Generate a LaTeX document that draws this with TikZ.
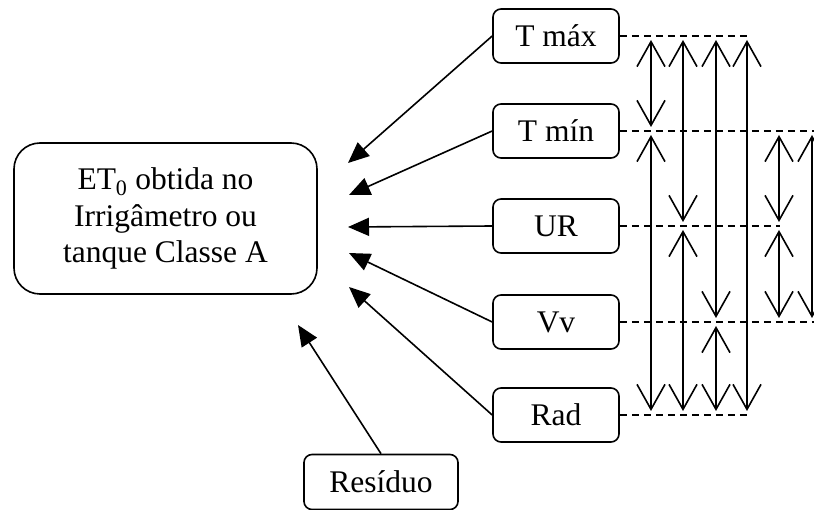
\documentclass[tikz,border=0pt]{standalone}
\usepackage{fontspec}
\setmainfont{Liberation Serif}
\usetikzlibrary{arrows.meta}

\begin{document}
\begin{tikzpicture}[x=1pt,y=-1pt,
  every node/.style={font=\fontsize{31.5}{36.7}\selectfont, inner sep=0pt},
  varbox/.style={draw, line width=1.6pt, rounded corners=8pt,
                 minimum width=126pt, minimum height=54pt},
  mainbox/.style={draw, line width=1.6pt, rounded corners=26pt,
                  minimum width=303pt, minimum height=151pt, align=center},
  feed/.style={line width=1.6pt, -{Triangle[length=21pt,width=18pt]}},
  guide/.style={line width=1.4pt, dash pattern=on 7pt off 5pt},
  span/.style={line width=1.6pt,
               {Straight Barb[length=25pt,width=28pt,line width=1.6pt]}-{Straight Barb[length=25pt,width=28pt,line width=1.6pt]},
               shorten <=4pt, shorten >=4pt}]
\useasboundingbox (0,0) rectangle (814,510);

% central box
\node[mainbox] (et) at (165.5,218.5) {ET\textsubscript{0} obtida no\\Irrigâmetro ou\\tanque Classe A};

% climate variables
\node[varbox] (tmax) at (556,36)  {T máx};
\node[varbox] (tmin) at (556,131) {T mín};
\node[varbox] (ur)   at (556,226) {UR};
\node[varbox] (vv)   at (556,322) {Vv};
\node[varbox] (rad)  at (556,415) {Rad};
\node[varbox, minimum width=154pt, minimum height=55pt] (res) at (381,482) {Resíduo};

% arrow tips pointing at the central box
\coordinate (a1) at (348,163);
\coordinate (a2) at (349,195);
\coordinate (a3) at (348,227);
\coordinate (a4) at (349,253);
\coordinate (a5) at (349,287);
\coordinate (a6) at (298,325);

\draw[feed] (tmax.west) -- (a1);
\draw[feed] (tmin.west) -- (a2);
\draw[feed] (ur.west)   -- (a3);
\draw[feed] (vv.west)   -- (a4);
\draw[feed] (rad.west)  -- (a5);
\draw[feed] (res.north) -- (a6);

% dashed reference levels
\coordinate (e1) at (748,0);
\coordinate (e2) at (814,0);
\coordinate (e3) at (780,0);
\draw[guide] (tmax.east) -- (e1 |- tmax.east);
\draw[guide] (tmin.east) -- (e2 |- tmin.east);
\draw[guide] (ur.east)   -- (e3 |- ur.east);
\draw[guide] (vv.east)   -- (e2 |- vv.east);
\draw[guide] (rad.east)  -- (e1 |- rad.east);

% columns of the correlation arrows
\coordinate (c1) at (651,0);
\coordinate (c2) at (683,0);
\coordinate (c3) at (716,0);
\coordinate (c4) at (747,0);
\coordinate (c5) at (779,0);
\coordinate (c6) at (812,0);

\draw[span] (c1 |- tmax.east) -- (c1 |- tmin.east);
\draw[span] (c1 |- tmin.east) -- (c1 |- rad.east);
\draw[span] (c2 |- tmax.east) -- (c2 |- ur.east);
\draw[span] (c2 |- ur.east)   -- (c2 |- rad.east);
\draw[span] (c3 |- tmax.east) -- (c3 |- vv.east);
\draw[span] (c3 |- vv.east)   -- (c3 |- rad.east);
\draw[span] (c4 |- tmax.east) -- (c4 |- rad.east);
\draw[span] (c5 |- tmin.east) -- (c5 |- ur.east);
\draw[span] (c5 |- ur.east)   -- (c5 |- vv.east);
\draw[span] (c6 |- tmin.east) -- (c6 |- vv.east);
\end{tikzpicture}
\end{document}
